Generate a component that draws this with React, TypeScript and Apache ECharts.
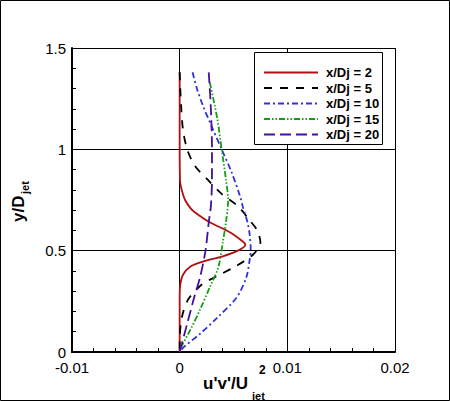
import { useEffect, useRef } from 'react';
import * as echarts from 'echarts';

// u'v'/Ujet^2 profiles, pairs of [value, y/Djet]
const seriesNames = ['x/Dj = 2', 'x/Dj = 5', 'x/Dj = 10', 'x/Dj = 15', 'x/Dj = 20'];

const xd2: [number, number][] = [
  [0, 1.38], [0, 1.2], [0, 1.0], [0.00003, 0.85], [0.0001, 0.82], [0.0003, 0.78],
  [0.0005, 0.75], [0.001, 0.71], [0.0014, 0.69], [0.0028, 0.64], [0.0047, 0.59],
  [0.0058, 0.548], [0.0061, 0.53], [0.0056, 0.505], [0.004, 0.472], [0.0022, 0.447],
  [0.001, 0.422], [0.0003, 0.38], [0.00005, 0.33], [0, 0.28], [0, 0],
];
const xd5: [number, number][] = [
  [0, 1.38], [0.0001, 1.25], [0.0003, 1.1], [0.0007, 1.0], [0.0014, 0.92],
  [0.0026, 0.85], [0.0039, 0.78], [0.0054, 0.72], [0.0065, 0.65], [0.0072, 0.6],
  [0.0075, 0.54], [0.0068, 0.48], [0.0051, 0.42], [0.0035, 0.375], [0.0021, 0.335],
  [0.0008, 0.26], [0.0002, 0.17], [0, 0.05], [0, 0],
];
const xd10: [number, number][] = [
  [0.0012, 1.38], [0.0016, 1.3], [0.0022, 1.21], [0.003, 1.11], [0.0039, 1.0],
  [0.0048, 0.89], [0.0056, 0.77], [0.0059, 0.71], [0.0063, 0.64], [0.0065, 0.58],
  [0.0066, 0.505], [0.0065, 0.455], [0.0062, 0.37], [0.0053, 0.27], [0.0035, 0.17],
  [0.0019, 0.09], [0.0004, 0.025], [0, 0],
];
const xd15: [number, number][] = [
  [0.0028, 1.33], [0.0035, 1.15], [0.0039, 1.0], [0.0043, 0.85], [0.0045, 0.75],
  [0.0043, 0.64], [0.004, 0.54], [0.0036, 0.42], [0.0028, 0.32], [0.0019, 0.21],
  [0.001, 0.11], [0.0002, 0.03], [0, 0],
];
const xd20: [number, number][] = [
  [0.0027, 1.38], [0.0029, 1.2], [0.003, 1.0], [0.003, 0.85], [0.0029, 0.72],
  [0.0027, 0.64], [0.0024, 0.5], [0.0019, 0.37], [0.0013, 0.26], [0.0007, 0.14],
  [0.0002, 0.04], [0, 0],
];

const seriesData = [xd2, xd5, xd10, xd15, xd20];
const colors = ['#b01010', '#000000', '#3232d8', '#12a012', '#45109a'];
const dashes: (string | number[])[] = ['solid', [8, 8], [6, 3, 2, 3], [6, 2, 1.5, 2, 1.5, 2], [11, 5]];

const FONT = '"Liberation Sans", Arial, sans-serif';

export default function App() {
  const chartRef = useRef<HTMLDivElement>(null);

  useEffect(() => {
    if (!chartRef.current) return;
    const chart = echarts.init(chartRef.current, undefined, { renderer: 'svg' });

    const option: echarts.EChartsOption = {
      animation: false,
      backgroundColor: '#ffffff',
      grid: { left: 72, top: 48, right: 55, bottom: 49 },
      xAxis: {
        type: 'value',
        min: -0.01,
        max: 0.02,
        interval: 0.01,
        axisLine: { show: true, onZero: false, lineStyle: { color: '#000', width: 2 } },
        axisTick: { show: true, inside: true, length: 8, lineStyle: { color: '#000', width: 1 } },
        minorTick: { show: true, splitNumber: 5, length: 4, lineStyle: { color: '#000', width: 1 } },
        splitLine: { show: true, lineStyle: { color: '#000', width: 1 } },
        axisLabel: { color: '#000', fontSize: 15, fontFamily: FONT, margin: 8 },
      },
      yAxis: {
        type: 'value',
        min: 0,
        max: 1.5,
        interval: 0.5,
        axisLine: { show: true, onZero: false, lineStyle: { color: '#000', width: 2 } },
        axisTick: { show: true, inside: true, length: 8, lineStyle: { color: '#000', width: 1 } },
        minorTick: { show: true, splitNumber: 5, length: 4, lineStyle: { color: '#000', width: 1 } },
        splitLine: { show: true, lineStyle: { color: '#000', width: 1 } },
        axisLabel: { color: '#000', fontSize: 15, fontFamily: FONT, margin: 6 },
      },
      legend: {
        orient: 'vertical',
        left: 254,
        top: 52,
        z: 5,
        padding: [14, 0, 0, 9],
        itemWidth: 54,
        itemHeight: 12,
        itemGap: 2.5,
        data: seriesNames,
        itemStyle: { opacity: 0 },
        textStyle: { color: '#000', fontSize: 13, fontWeight: 'bold', fontFamily: FONT, padding: [0, 0, 0, 3] },
      },
      graphic: [
        {
          type: 'rect', z: 3,
          shape: { x: 254.5, y: 52.5, width: 128, height: 92 },
          style: { fill: '#fff', stroke: '#000', lineWidth: 1 },
        },
        {
          type: 'rect', z: 10,
          shape: { x: 0.5, y: 0.5, width: 449, height: 400 },
          style: { fill: 'none', stroke: '#000', lineWidth: 1 },
        },
        {
          type: 'text', x: 203, y: 383,
          style: { text: "u'v'/U", fill: '#000', font: `bold 17px ${FONT}`, textVerticalAlign: 'middle' },
        },
        {
          type: 'text', x: 252, y: 396,
          style: { text: 'jet', fill: '#000', font: `bold 11px ${FONT}`, textVerticalAlign: 'middle' },
        },
        {
          type: 'text', x: 259, y: 370,
          style: { text: '2', fill: '#000', font: `bold 12px ${FONT}`, textVerticalAlign: 'middle' },
        },
        {
          type: 'group', x: 18, y: 222, rotation: Math.PI / 2,
          children: [
            {
              type: 'text', x: 0, y: 0,
              style: { text: 'y/D', fill: '#000', font: `bold 17px ${FONT}`, textVerticalAlign: 'middle' },
            },
            {
              type: 'text', x: 28, y: 7,
              style: { text: 'jet', fill: '#000', font: `bold 11px ${FONT}`, textVerticalAlign: 'middle' },
            },
          ],
        },
      ],
      series: seriesNames.map((name, i) => ({
        name,
        type: 'line',
        data: seriesData[i],
        showSymbol: false,
        symbol: 'none',
        smooth: 0.3,
        color: colors[i],
        lineStyle: { color: colors[i], width: 1.8, type: dashes[i] as any },
      })),
    };

    chart.setOption(option);
    return () => {
      chart.dispose();
    };
  }, []);

  return (
    <div
      ref={chartRef}
      style={{ position: 'absolute', left: 0, top: 0, width: 450, height: 401 }}
    />
  );
}
